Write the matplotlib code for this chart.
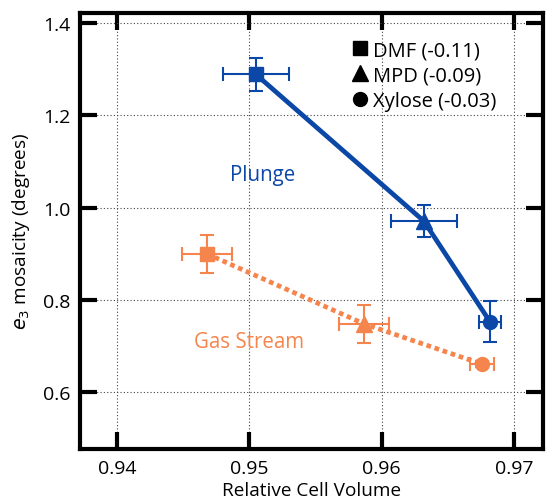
import matplotlib
matplotlib.use("Agg")
import matplotlib.pyplot as plt
from matplotlib.lines import Line2D

plt.rcParams['font.family'] = ['Open Sans', 'DejaVu Sans']

solvents = ["DMF (-0.11)", "MPD (-0.09)", "Xylose (-0.03)"]
markers = ["s", "^", "o"]

plunge_x = [0.9505, 0.9632, 0.9682]
plunge_y = [1.289, 0.971, 0.753]
plunge_xerr = [0.0025, 0.0025, 0.0008]
plunge_yerr = [0.035, 0.035, 0.045]

gas_x = [0.9468, 0.9587, 0.9676]
gas_y = [0.900, 0.748, 0.661]
gas_xerr = [0.0019, 0.0019, 0.0009]
gas_yerr = [0.041, 0.041, 0.006]

blue = "#0a47a6"
orange = "#f5854c"

fig = plt.figure(figsize=(5.5, 5.02), dpi=100)
ax = fig.add_axes([0.1455, 0.1036, 0.8415, 0.8694])

ax.grid(True, color="#444444", linestyle=(0, (1, 2)), linewidth=0.8)
ax.set_axisbelow(True)

ax.plot(plunge_x, plunge_y, color=blue, lw=3.4, zorder=3)
ax.plot(gas_x, gas_y, color=orange, lw=3.4, linestyle=(0, (1.0, 0.8)), zorder=3)

for i in range(3):
    ax.errorbar(plunge_x[i], plunge_y[i], xerr=plunge_xerr[i], yerr=plunge_yerr[i],
                fmt=markers[i], color=blue, ms=10 if markers[i] != "^" else 12,
                elinewidth=1.5, capsize=5, capthick=1.5, zorder=4)
    ax.errorbar(gas_x[i], gas_y[i], xerr=gas_xerr[i], yerr=gas_yerr[i],
                fmt=markers[i], color=orange, ms=10 if markers[i] != "^" else 12,
                elinewidth=1.5, capsize=5, capthick=1.5, zorder=4)

ax.text(0.9510, 1.073, "Plunge", color=blue, fontsize=14.8, ha="center", va="center")
ax.text(0.9500, 0.711, "Gas Stream", color=orange, fontsize=14.8, ha="center", va="center")

handles = [Line2D([], [], marker=m, color="black", linestyle="none", ms=10 if m != "^" else 11)
           for m in markers]
leg = ax.legend(handles, solvents, loc="upper left", bbox_to_anchor=(0.583, 0.937),
                frameon=False, fontsize=14.5, handletextpad=0.15, labelspacing=0.27,
                handlelength=1.0, borderpad=0, borderaxespad=0)

ax.set_xlim(0.9372, 0.9722)
ax.set_ylim(0.477, 1.423)
ax.set_xticks([0.94, 0.95, 0.96, 0.97])
ax.set_yticks([0.6, 0.8, 1.0, 1.2, 1.4])
ax.set_xticklabels(["0.94", "0.95", "0.96", "0.97"])
ax.set_yticklabels(["0.6", "0.8", "1.0", "1.2", "1.4"])
ax.tick_params(direction="in", length=12, width=3, labelsize=14,
               top=True, right=True, pad=7)
for s in ax.spines.values():
    s.set_linewidth(3)

ax.set_xlabel("Relative Cell Volume", fontsize=13.7, labelpad=3)
ax.set_ylabel(r"$e_3$ mosaicity (degrees)", fontsize=13.7, labelpad=8)

fig.savefig("out.png", dpi=100)
